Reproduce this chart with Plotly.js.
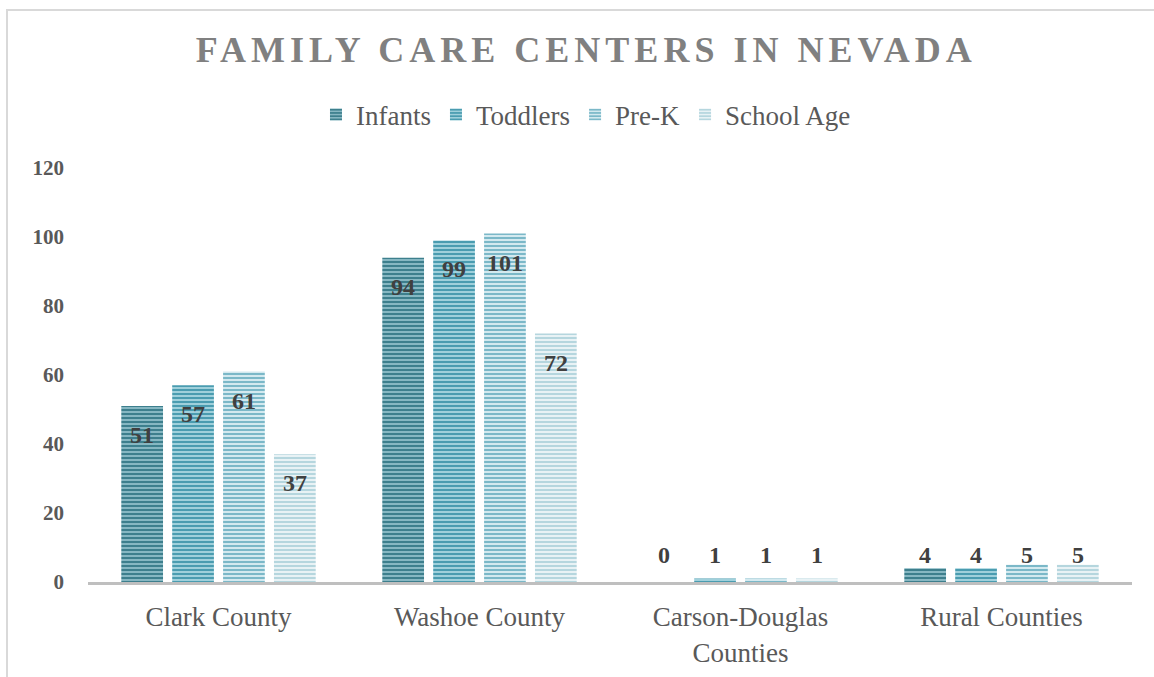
<!DOCTYPE html>
<html>
<head>
<meta charset="utf-8">
<script src="https://cdn.plot.ly/plotly-3.0.1.min.js"></script>
<style>
  html, body { margin: 0; padding: 0; background: #fff; }
  #wrap { position: relative; width: 1154px; height: 677px; overflow: hidden; }
  #chart { position: absolute; left: 0; top: 0; width: 1154px; height: 677px; }
  #frame { position: absolute; left: 6px; top: 9px; width: 1200px; height: 700px;
           border-left: 2px solid #d9d9d9; border-top: 2px solid #d9d9d9; pointer-events: none; }
  .gtitle { letter-spacing: 5px; }
  .legendtext { font-family: "Liberation Serif", serif !important; }
</style>
</head>
<body>
<div id="wrap">
  <div id="chart"></div>
  <div id="frame"></div>
</div>
<script>
const categories = ["Clark County", "Washoe County", "Carson-Douglas<br>Counties", "Rural Counties"];
const seriesNames = ["Infants", "Toddlers", "Pre-K", "School Age"];
const infants = [51, 94, 0, 4];
const toddlers = [57, 99, 1, 4];
const preK = [61, 101, 1, 5];
const schoolAge = [37, 72, 1, 5];
const yTicks = [0, 20, 40, 60, 80, 100, 120];

const seriesValues = [infants, toddlers, preK, schoolAge];
const fg = ["#3d7f8d", "#4a9cb0", "#7bb8c8", "#b5d6de"];
const bg = ["#86b7c2", "#9fd0db", "#d3e9ef", "#e8f2f5"];
const FONT = "Liberation Serif";

const BARGAP = 0.22;
const nSeries = seriesValues.length;

const traces = seriesValues.map((vals, i) => ({
  type: "bar",
  name: seriesNames[i],
  x: categories,
  y: vals,
  marker: {
    color: bg[i],
    line: { width: 0 },
    pattern: { shape: "-", fgcolor: fg[i], bgcolor: bg[i], size: 4, solidity: 0.5, fillmode: "replace" }
  },
  hoverinfo: "skip"
}));

// data labels: "inside end" for tall bars, a row just above the axis for short ones
const plotWidth = 1154 - 88 - 22;
const slotPx = plotWidth / categories.length * (1 - BARGAP) / nSeries;
const annotations = [];
seriesValues.forEach((vals, i) => {
  vals.forEach((v, j) => {
    const inside = v >= 20;
    annotations.push({
      x: categories[j],
      y: inside ? v : 0,
      xref: "x", yref: "y",
      text: "<b>" + v + "</b>",
      showarrow: false,
      xanchor: "center",
      yanchor: "middle",
      xshift: (i - (nSeries - 1) / 2) * slotPx,
      yshift: inside ? -29 : 27,
      font: { family: FONT, size: 24, color: "#404040" }
    });
  });
});

const layout = {
  width: 1154,
  height: 677,
  paper_bgcolor: "#ffffff",
  plot_bgcolor: "#ffffff",
  margin: { l: 88, r: 22, t: 168, b: 95 },
  barmode: "group",
  bargap: BARGAP,
  bargroupgap: 0.18,
  title: {
    text: "<b>FAMILY CARE CENTERS IN NEVADA</b>",
    font: { family: FONT, size: 36, color: "#808080" },
    x: 0.508, xanchor: "center",
    y: 0.927, yanchor: "middle"
  },
  showlegend: true,
  legend: {
    orientation: "h",
    x: 0.477, xanchor: "center",
    y: 1.128, yanchor: "middle",
    font: { family: FONT, size: 27, color: "#595959" },
    itemwidth: 30,
    traceorder: "normal"
  },
  annotations: annotations,
  xaxis: {
    type: "category",
    showgrid: false,
    showline: true,
    linecolor: "#bfbfbf",
    linewidth: 3,
    ticks: "",
    tickfont: { family: FONT, size: 27, color: "#595959" },
    ticklabelstandoff: 9,
    fixedrange: true
  },
  yaxis: {
    range: [0, 120],
    tickvals: yTicks,
    ticktext: yTicks.map(String),
    showgrid: false,
    zeroline: false,
    showline: false,
    ticks: "",
    ticklabelstandoff: 23,
    tickfont: { family: FONT, size: 21, color: "#595959", weight: "bold" },
    fixedrange: true
  },
  font: { family: FONT, color: "#595959" }
};

Plotly.newPlot("chart", traces, layout, { displayModeBar: false, staticPlot: true });
</script>
</body>
</html>
